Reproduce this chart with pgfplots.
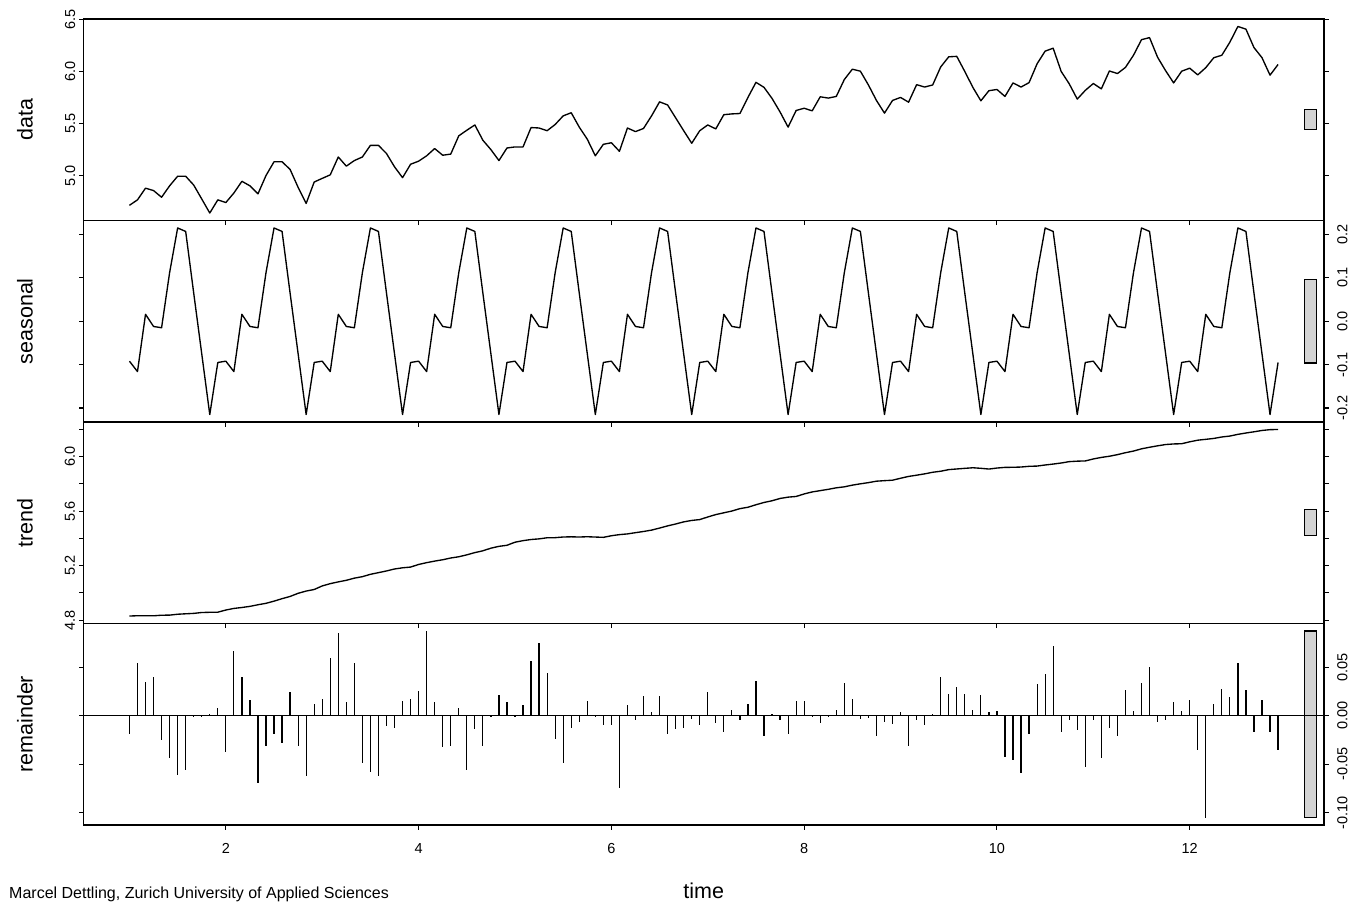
\documentclass[border=0pt]{standalone}
\usepackage{fontspec}
\setmainfont{Liberation Sans}
\usepackage{pgfplots}
\usepackage{pgfplotstable}
\pgfplotsset{compat=1.18}

% STL decomposition of log monthly airline passengers
% d = data, s = seasonal, t = trend, r = remainder (one row per month)
\pgfplotstableread{
d s t r
4.7185 -0.092 4.8299 -0.0194
4.7707 -0.116 4.8322 0.0545
4.8828 0.016 4.8317 0.0351
4.8598 -0.012 4.8316 0.0402
4.7958 -0.015 4.8360 -0.0252
4.9053 0.112 4.8366 -0.0433
4.9972 0.215 4.8432 -0.0610
4.9972 0.207 4.8464 -0.0562
4.9127 0.065 4.8494 -0.0017
4.7791 -0.075 4.8558 -0.0017
4.6444 -0.215 4.8574 0.0020
4.7707 -0.095 4.8582 0.0075
4.7449 -0.092 4.8740 -0.0371
4.8363 -0.116 4.8858 0.0665
4.9488 0.016 4.8926 0.0402
4.9053 -0.012 4.9009 0.0164
4.8283 -0.015 4.9128 -0.0695
5.0039 0.112 4.9233 -0.0314
5.1358 0.215 4.9392 -0.0184
5.1358 0.207 4.9574 -0.0286
5.0626 0.065 4.9737 0.0239
4.8904 -0.075 4.9968 -0.0314
4.7362 -0.215 5.0132 -0.0620
4.9416 -0.095 5.0247 0.0119
4.9767 -0.092 5.0510 0.0177
5.0106 -0.116 5.0676 0.0590
5.1818 0.016 5.0806 0.0852
5.0938 -0.012 5.0922 0.0136
5.1475 -0.015 5.1080 0.0545
5.1818 0.112 5.1189 -0.0491
5.2933 0.215 5.1362 -0.0579
5.2933 0.207 5.1483 -0.0620
5.2149 0.065 5.1608 -0.0109
5.0876 -0.075 5.1752 -0.0126
4.9836 -0.215 5.1839 0.0147
5.1120 -0.095 5.1893 0.0177
5.1417 -0.092 5.2085 0.0252
5.1930 -0.116 5.2217 0.0873
5.2627 0.016 5.2331 0.0136
5.1985 -0.012 5.2429 -0.0324
5.2095 -0.015 5.2559 -0.0314
5.3845 0.112 5.2650 0.0075
5.4381 0.215 5.2790 -0.0559
5.4889 0.207 5.2955 -0.0136
5.3423 0.065 5.3087 -0.0314
5.2523 -0.075 5.3280 -0.0007
5.1475 -0.215 5.3414 0.0211
5.2679 -0.095 5.3493 0.0136
5.2781 -0.092 5.3718 -0.0017
5.2781 -0.116 5.3832 0.0109
5.4638 0.016 5.3916 0.0562
5.4596 -0.012 5.3963 0.0753
5.4337 -0.015 5.4044 0.0443
5.4931 0.112 5.4050 -0.0239
5.5759 0.215 5.4100 -0.0491
5.6058 0.207 5.4114 -0.0126
5.4681 0.065 5.4099 -0.0068
5.3519 -0.075 5.4119 0.0150
5.1930 -0.215 5.4097 -0.0017
5.3033 -0.095 5.4075 -0.0092
5.3181 -0.092 5.4193 -0.0092
5.2364 -0.116 5.4274 -0.0750
5.4596 0.016 5.4327 0.0109
5.4250 -0.012 5.4418 -0.0048
5.4553 -0.015 5.4505 0.0198
5.5759 0.112 5.4605 0.0034
5.7104 0.215 5.4756 0.0198
5.6802 0.207 5.4916 -0.0184
5.5568 0.065 5.5054 -0.0136
5.4337 -0.075 5.5210 -0.0123
5.3132 -0.215 5.5316 -0.0034
5.4337 -0.095 5.5379 -0.0092
5.4889 -0.092 5.5570 0.0239
5.4510 -0.116 5.5745 -0.0075
5.5872 0.016 5.5876 -0.0164
5.5947 -0.012 5.6006 0.0061
5.5984 -0.015 5.6182 -0.0048
5.7526 0.112 5.6283 0.0123
5.8972 0.215 5.6468 0.0354
5.8493 0.207 5.6634 -0.0211
5.7430 0.065 5.6760 0.0020
5.6131 -0.075 5.6929 -0.0048
5.4681 -0.215 5.7025 -0.0194
5.6276 -0.095 5.7076 0.0150
5.6490 -0.092 5.7260 0.0150
5.6240 -0.116 5.7407 -0.0007
5.7589 0.016 5.7504 -0.0075
5.7462 -0.012 5.7599 -0.0017
5.7621 -0.015 5.7710 0.0061
5.9243 0.112 5.7782 0.0341
6.0234 0.215 5.7907 0.0177
6.0039 0.207 5.8003 -0.0034
5.8721 0.065 5.8091 -0.0020
5.7236 -0.075 5.8197 -0.0211
5.6021 -0.215 5.8236 -0.0065
5.7236 -0.095 5.8268 -0.0082
5.7526 -0.092 5.8412 0.0034
5.7071 -0.116 5.8545 -0.0314
5.8749 0.016 5.8637 -0.0048
5.8522 -0.012 5.8734 -0.0092
5.8721 -0.015 5.8851 0.0020
6.0450 0.112 5.8928 0.0402
6.1420 0.215 5.9045 0.0225
6.1463 0.207 5.9093 0.0300
6.0014 0.065 5.9139 0.0225
5.8493 -0.075 5.9182 0.0061
5.7203 -0.215 5.9142 0.0211
5.8171 -0.095 5.9087 0.0034
5.8289 -0.092 5.9161 0.0048
5.7621 -0.116 5.9210 -0.0429
5.8916 0.016 5.9216 -0.0460
5.8522 -0.012 5.9235 -0.0593
5.8944 -0.015 5.9288 -0.0194
6.0753 0.112 5.9306 0.0327
6.1964 0.215 5.9385 0.0429
6.2246 0.207 5.9453 0.0723
6.0014 0.065 5.9531 -0.0167
5.8833 -0.075 5.9631 -0.0048
5.7366 -0.215 5.9666 -0.0150
5.8201 -0.095 5.9683 -0.0532
5.8861 -0.092 5.9829 -0.0048
5.8348 -0.116 5.9941 -0.0433
6.0064 0.016 6.0027 -0.0123
5.9814 -0.012 6.0145 -0.0211
6.0403 -0.015 6.0287 0.0266
6.1570 0.112 6.0406 0.0044
6.3063 0.215 6.0572 0.0341
6.3261 0.207 6.0687 0.0504
6.1377 0.065 6.0792 -0.0065
6.0088 -0.075 6.0886 -0.0048
5.8916 -0.215 6.0930 0.0136
6.0039 -0.095 6.0945 0.0044
6.0331 -0.092 6.1087 0.0164
5.9687 -0.116 6.1205 -0.0358
6.0379 0.016 6.1269 -0.1050
6.1334 -0.012 6.1335 0.0119
6.1570 -0.015 6.1441 0.0279
6.2823 0.112 6.1509 0.0194
6.4329 0.215 6.1634 0.0545
6.4069 0.207 6.1733 0.0266
6.2305 0.065 6.1822 -0.0167
6.1334 -0.075 6.1920 0.0164
5.9661 -0.215 6.1978 -0.0167
6.0684 -0.095 6.1992 -0.0358
}\stl

\definecolor{rangegray}{HTML}{D3D3D3}

\pgfplotsset{
  stlpanel/.style={
    scale only axis,
    width=1240.5bp, height=201.5bp,
    xmin=0.5233, xmax=13.3933,
    axis line style={line width=1.7bp},
    tick style={line width=1.1bp, black},
    major tick length=4.5bp,
    tick align=outside,
    xtick={2,4,6,8,10,12},
    xtick pos=bottom,
    xticklabels={,,,,,},
    ytick pos=both,
    tick label style={font=\fontsize{14.5bp}{17bp}\selectfont, inner sep=0pt},
    ylabel style={at={(axis description cs:-0.0411,0.5)}, anchor=base,
      inner sep=0pt, font=\fontsize{21.5bp}{26bp}\selectfont},
  },
  leftlabels/.style={
    yticklabel pos=left,
    yticklabel style={rotate=90, anchor=base},
    yticklabel shift=4bp,
  },
  rightlabels/.style={
    yticklabel pos=right,
    yticklabel style={rotate=90, anchor=north},
    yticklabel shift=8.5bp,
  },
  series/.style={black, line width=1.35bp, no marks, line join=round},
  rangebar/.style={fill=rangegray, draw=black, line width=1.2bp, no marks},
}

\begin{document}
\begin{tikzpicture}

% data
\begin{axis}[stlpanel, leftlabels,
  at={(83.5bp,-19bp)}, anchor=north west,
  ymin=4.5729, ymax=6.5044,
  ytick={5.0,5.5,6.0,6.5}, yticklabels={5.0,5.5,6.0,6.5},
  ylabel={data}]
  \addplot[series] table[x expr=1+\coordindex/12, y=d] {\stl};
  \addplot[rangebar] coordinates {(13.1922,5.4425) (13.3129,5.4425) (13.3129,5.6348) (13.1922,5.6348)} -- cycle;
\end{axis}

% seasonal
\begin{axis}[stlpanel, rightlabels,
  at={(83.5bp,-220.5bp)}, anchor=north west,
  ymin=-0.2322, ymax=0.2322,
  ytick={-0.2,-0.1,0,0.1,0.2}, yticklabels={-0.2,-0.1,0.0,0.1,0.2},
  ylabel={seasonal}]
  \addplot[series] table[x expr=1+\coordindex/12, y=s] {\stl};
  \addplot[rangebar] coordinates {(13.1922,-0.0962) (13.3129,-0.0962) (13.3129,0.0962) (13.1922,0.0962)} -- cycle;
\end{axis}

% trend
\begin{axis}[stlpanel, leftlabels,
  at={(83.5bp,-422bp)}, anchor=north west,
  ymin=4.7751, ymax=6.2540,
  ytick={4.8,5.0,5.2,5.4,5.6,5.8,6.0,6.2}, yticklabels={4.8,,5.2,,5.6,,6.0,},
  ylabel={trend}]
  \addplot[series] table[x expr=1+\coordindex/12, y=t] {\stl};
  \addplot[rangebar] coordinates {(13.1922,5.4184) (13.3129,5.4184) (13.3129,5.6107) (13.1922,5.6107)} -- cycle;
\end{axis}

% remainder
\begin{axis}[stlpanel, rightlabels,
  at={(83.5bp,-623.5bp)}, anchor=north west,
  ymin=-0.1127, ymax=0.0950,
  ytick={-0.10,-0.05,0,0.05}, yticklabels={-0.10,-0.05,0.00,0.05},
  xticklabels={2,4,6,8,10,12},
  xticklabel style={anchor=base},
  xticklabel shift=23.5bp,
  ylabel={remainder},
  xlabel={time},
  xlabel style={at={(axis description cs:0.5,-0.3623)}, anchor=base,
    inner sep=0pt, font=\fontsize{21.5bp}{26bp}\selectfont}]
  \addplot[rangebar] coordinates {(13.1922,-0.1050) (13.3129,-0.1050) (13.3129,0.0873) (13.1922,0.0873)} -- cycle;
  \addplot[black, line width=1.2bp, no marks] coordinates {(0.5233,0) (13.3933,0)};
  \addplot[ycomb, black, line width=1.2bp, no marks] table[x expr=1+\coordindex/12, y=r] {\stl};
\end{axis}

\node[anchor=base west, inner sep=0pt, font=\fontsize{16bp}{19bp}\selectfont]
  at (9bp,-898.5bp) {Marcel Dettling, Zurich University of Applied Sciences};

\pgfresetboundingbox
\useasboundingbox (0,0) rectangle (1349bp,-902bp);
\end{tikzpicture}
\end{document}
